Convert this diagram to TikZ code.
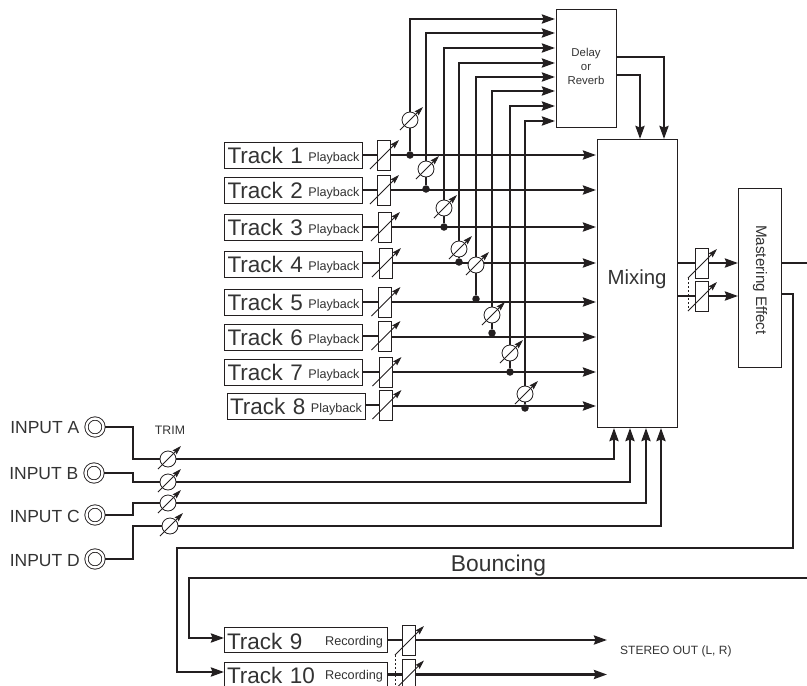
\documentclass[tikz,border=0pt]{standalone}
\usepackage{fontspec}
\setmainfont{Liberation Sans}
\usetikzlibrary{arrows.meta,backgrounds}
\definecolor{ink}{HTML}{231F20}
\definecolor{label}{HTML}{333333}
\newcommand{\fs}[1]{\fontsize{#1}{#1}\selectfont}
\newcommand{\play}{\raisebox{1.5pt}{\fs{12.6}Playback}}
\begin{document}
\begin{tikzpicture}[
  x=1pt, y=-1pt,
  box/.style={rectangle, draw=ink, fill=white, line width=0.9pt, inner sep=0pt},
  playbox/.style={box, minimum height=26pt, text width=132pt, inner xsep=3pt, text=label, font=\fs{22.5}, text height=18pt, text depth=2pt},
  recbox/.style={box, minimum height=25pt, text width=157pt, inner xsep=3pt, text=label, font=\fs{22.5}, text depth=0pt},
  fader/.style={box, minimum width=13pt, minimum height=30pt},
  knob/.style={circle, draw=ink, fill=white, line width=0.8pt, inner sep=0pt, minimum size=16pt},
  jack/.style={circle, draw=ink, fill=white, line width=0.9pt, double=white, double distance=2.4pt, inner sep=0pt, minimum size=17pt},
  dot/.style={circle, fill=ink, inner sep=0pt, minimum size=7.5pt},
  txt/.style={text=label, inner sep=0pt},
  bus/.style={draw=ink, line width=2.4pt},
  busarrow/.style={bus, -{Stealth[length=13pt,width=9pt,inset=1.5pt]}},
  tune/.style={draw=ink, line width=0.8pt, -{Stealth[length=9pt,width=5.5pt,inset=1pt]}},
  gang/.style={draw=ink, line width=0.8pt, dash pattern=on 2pt off 2pt}
]
  \useasboundingbox (0,0) rectangle (807,686);

  % Pistas
  \node[playbox] (t1) at (293.5,155) {Track 1\hfill\play};
  \node[playbox] (t2) at (293.5,190) {Track 2\hfill\play};
  \node[playbox] (t3) at (293.5,227) {Track 3\hfill\play};
  \node[playbox] (t4) at (293.5,264) {Track 4\hfill\play};
  \node[playbox] (t5) at (293.5,302) {Track 5\hfill\play};
  \node[playbox] (t6) at (293.5,337) {Track 6\hfill\play};
  \node[playbox] (t7) at (293.5,372) {Track 7\hfill\play};
  \node[playbox] (t8) at (296,406) {Track 8\hfill\play};
  \node[recbox, text height=19.5pt] (t9) at (305.5,639.5) {Track 9\hfill\raisebox{4pt}{\fs{12.7}Recording}\hspace*{1pt}};
  \node[recbox, text height=17pt] (t10) at (305.5,674.5) {Track 10\hfill\raisebox{4pt}{\fs{12.7}Recording}\hspace*{1pt}};

  % Faders
  \node[fader] (f1) at (383.5,155) {};
  \node[fader] (f2) at (383.5,190) {};
  \node[fader] (f3) at (384.5,227) {};
  \node[fader] (f4) at (385.5,263) {};
  \node[fader] (f5) at (385,302) {};
  \node[fader] (f6) at (385,336) {};
  \node[fader] (f7) at (386,372) {};
  \node[fader] (f8) at (386,405) {};
  \node[fader] (f9) at (408.5,640) {};
  \node[fader] (f10) at (408.5,674.5) {};
  \node[fader] (fm1) at (701.5,263) {};
  \node[fader] (fm2) at (701.5,296) {};

  % Envios
  \node[knob] (k1) at (410,120) {};
  \node[knob] (k2) at (426,169) {};
  \node[knob] (k3) at (444,208) {};
  \node[knob] (k4) at (459,249) {};
  \node[knob] (k5) at (476,265) {};
  \node[knob] (k6) at (492,315) {};
  \node[knob] (k7) at (510,353) {};
  \node[knob] (k8) at (525,394) {};
  \node[dot] (j1) at (410,155) {};
  \node[dot] (j2) at (426,189) {};
  \node[dot] (j3) at (444,227) {};
  \node[dot] (j4) at (459,262) {};
  \node[dot] (j5) at (476,299) {};
  \node[dot] (j6) at (492,333) {};
  \node[dot] (j7) at (510,372) {};
  \node[dot] (j8) at (525,408) {};

  % Bloques
  \node[box, minimum width=60pt, minimum height=118pt] (delay) at (586,68) {};
  \node[box, minimum width=80pt, minimum height=288pt] (mix) at (637,283) {};
  \node[box, minimum width=43pt, minimum height=179pt] (master) at (759.5,277.5) {};
  \node[txt, align=center, font=\fs{11.4}] (delaytxt) at (586,66) {Delay\\[2.6pt]or\\[2.6pt]Reverb};
  \node[txt, font=\fs{20.4}] (mixtxt) at (637,279) {Mixing};
  \node[txt, font=\fs{15.2}, rotate=-90] (mastertxt) at (760,280) {Mastering Effect};
  \node[txt, font=\fs{22.8}] (bouncetxt) at (498.5,566) {Bouncing};
  \node[txt, font=\fs{12}, anchor=west] (stereotxt) at (620,651) {STEREO OUT (L, R)};
  \node[txt, font=\fs{12.3}] (trimtxt) at (170,430) {TRIM};

  % Entradas
  \node[jack] (ia) at (95,427) {};
  \node[jack] (ib) at (94,473) {};
  \node[jack] (ic) at (95,515) {};
  \node[jack] (id) at (95,559) {};
  \node[txt, font=\fs{17.5}, anchor=east] (la) at (79.5,427.5) {INPUT A};
  \node[txt, font=\fs{17.5}, anchor=east] (lb) at (78.5,474) {INPUT B};
  \node[txt, font=\fs{17.5}, anchor=east] (lc) at (80,516.5) {INPUT C};
  \node[txt, font=\fs{17.5}, anchor=east] (ld) at (80,560.5) {INPUT D};
  \node[knob] (ka) at (168,459) {};
  \node[knob] (kb) at (168,482) {};
  \node[knob] (kc) at (168,503) {};
  \node[knob] (kd) at (170,526) {};

  % Puntos de conexion
  \coordinate (m1) at (596,155);
  \coordinate (m2) at (596,190);
  \coordinate (m3) at (596,227);
  \coordinate (m4) at (596,263);
  \coordinate (m5) at (596,302);
  \coordinate (m6) at (596,337);
  \coordinate (m7) at (596,372);
  \coordinate (m8) at (596,406);
  \coordinate (d1) at (555,19);
  \coordinate (d2) at (555,33);
  \coordinate (d3) at (555,48);
  \coordinate (d4) at (555,63);
  \coordinate (d5) at (555,77);
  \coordinate (d6) at (555,91);
  \coordinate (d7) at (555,106);
  \coordinate (d8) at (555,121);
  \coordinate (ea) at (133,459);
  \coordinate (eb) at (133,482);
  \coordinate (ec) at (133,503);
  \coordinate (ed) at (133,526);
  \coordinate (ma) at (614,428);
  \coordinate (mb) at (630,428);
  \coordinate (mc) at (646,428);
  \coordinate (md) at (661,428);
  \coordinate (do1) at (616,57);
  \coordinate (do2) at (616,75);
  \coordinate (di1) at (664,139);
  \coordinate (di2) at (640,139);
  \coordinate (mo1) at (677,263);
  \coordinate (mo2) at (677,296);
  \coordinate (me1) at (738,263);
  \coordinate (me2) at (738,296);
  \coordinate (eo1) at (781,263);
  \coordinate (eo2) at (781,294);
  \coordinate (edge1) at (807,263);
  \coordinate (edge2) at (807,578);
  \coordinate (b1) at (793,548);
  \coordinate (b2) at (177,672);
  \coordinate (b3) at (189,638);
  \coordinate (in9) at (224,638);
  \coordinate (in10) at (224,672);
  \coordinate (o9) at (607,640);
  \coordinate (o10) at (607,674.5);

  \begin{scope}[on background layer]
    % Pistas a mezcla
    \draw[bus] (t1) -- (f1);
    \draw[bus] (t2) -- (f2);
    \draw[bus] (t3) -- (f3);
    \draw[bus] (t4.east |- f4) -- (f4);
    \draw[bus] (t5) -- (f5);
    \draw[bus] (t6.east |- f6) -- (f6);
    \draw[bus] (t7) -- (f7);
    \draw[bus] (t8.east |- f8) -- (f8);
    \draw[busarrow] (f1) -- (m1);
    \draw[busarrow] (f2) -- (m2);
    \draw[busarrow] (f3) -- (m3);
    \draw[busarrow] (f4) -- (m4);
    \draw[busarrow] (f5) -- (m5);
    \draw[busarrow] (f6.east |- m6) -- (m6);
    \draw[busarrow] (f7) -- (m7);
    \draw[busarrow] (f8.east |- m8) -- (m8);

    % Envios al delay
    \draw[bus] (j1) -- (k1);
    \draw[bus] (j2) -- (k2);
    \draw[bus] (j3) -- (k3);
    \draw[bus] (j4) -- (k4);
    \draw[bus] (j5) -- (k5);
    \draw[bus] (j6) -- (k6);
    \draw[bus] (j7) -- (k7);
    \draw[bus] (j8) -- (k8);
    \draw[busarrow] (k1) |- (d1);
    \draw[busarrow] (k2) |- (d2);
    \draw[busarrow] (k3) |- (d3);
    \draw[busarrow] (k4) |- (d4);
    \draw[busarrow] (k5) |- (d5);
    \draw[busarrow] (k6) |- (d6);
    \draw[busarrow] (k7) |- (d7);
    \draw[busarrow] (k8) |- (d8);
    \draw[busarrow] (do1) -| (di1);
    \draw[busarrow] (do2) -| (di2);

    % Entradas
    \draw[bus] (ia) -| (ea) -- (ka);
    \draw[bus] (ib) -| (eb) -- (kb);
    \draw[bus] (ic) -| (ec) -- (kc);
    \draw[bus] (id) -| (ed) -- (kd);
    \draw[busarrow] (ka) -| (ma);
    \draw[busarrow] (kb) -| (mb);
    \draw[busarrow] (kc) -| (mc);
    \draw[busarrow] (kd) -| (md);

    % Salidas
    \draw[bus] (mo1) -- (fm1);
    \draw[bus] (mo2) -- (fm2);
    \draw[busarrow] (fm1) -- (me1);
    \draw[busarrow] (fm2) -- (me2);
    \draw[bus] (eo1) -- (edge1);
    \draw[busarrow] (eo2) -| (b1) -| (b2) -- (in10);
    \draw[busarrow] (edge2) -| (b3) -- (in9);
    \draw[bus] (t9.east |- f9) -- (f9);
    \draw[bus] (t10) -- (f10);
    \draw[busarrow] (f9) -- (o9);
    \draw[busarrow] (f10) -- (o10);
  \end{scope}

  % Flechas de ajuste
  \draw[tune] ([shift={(-13.5,14)}]f1.center) -- ++(29,-29);
  \draw[tune] ([shift={(-13.5,14)}]f2.center) -- ++(29,-29);
  \draw[tune] ([shift={(-13.5,14)}]f3.center) -- ++(29,-29);
  \draw[tune] ([shift={(-13.5,14)}]f4.center) -- ++(29,-29);
  \draw[tune] ([shift={(-13.5,14)}]f5.center) -- ++(29,-29);
  \draw[tune] ([shift={(-13.5,14)}]f6.center) -- ++(29,-29);
  \draw[tune] ([shift={(-13.5,14)}]f7.center) -- ++(29,-29);
  \draw[tune] ([shift={(-13.5,14)}]f8.center) -- ++(29,-29);
  \draw[tune] ([shift={(-13.5,15)}]f9.center) -- ++(29,-29);
  \draw[tune] ([shift={(-13.5,15)}]f10.center) -- ++(29,-29);
  \draw[tune] ([shift={(-13.5,15)}]fm1.center) -- ++(29,-29);
  \draw[tune] ([shift={(-13.5,15)}]fm2.center) -- ++(29,-29);
  \draw[tune] ([shift={(-10,10)}]k1.center) -- ++(23,-23);
  \draw[tune] ([shift={(-10,10)}]k2.center) -- ++(23,-23);
  \draw[tune] ([shift={(-10,10)}]k3.center) -- ++(23,-23);
  \draw[tune] ([shift={(-10,10)}]k4.center) -- ++(23,-23);
  \draw[tune] ([shift={(-10,10)}]k5.center) -- ++(23,-23);
  \draw[tune] ([shift={(-10,10)}]k6.center) -- ++(23,-23);
  \draw[tune] ([shift={(-10,10)}]k7.center) -- ++(23,-23);
  \draw[tune] ([shift={(-10,10)}]k8.center) -- ++(23,-23);
  \draw[tune] ([shift={(-10,10)}]ka.center) -- ++(23,-23);
  \draw[tune] ([shift={(-10,10)}]kb.center) -- ++(23,-23);
  \draw[tune] ([shift={(-10,10)}]kc.center) -- ++(23,-23);
  \draw[tune] ([shift={(-10,10)}]kd.center) -- ++(23,-23);

  % Enlaces discontinuos
  \draw[gang] ([shift={(-13.5,15)}]fm1.center) -- ([shift={(-13.5,15)}]fm2.center);
  \draw[gang] ([shift={(-13.5,15)}]f9.center) -- ([shift={(-13.5,15)}]f10.center);
\end{tikzpicture}
\end{document}
